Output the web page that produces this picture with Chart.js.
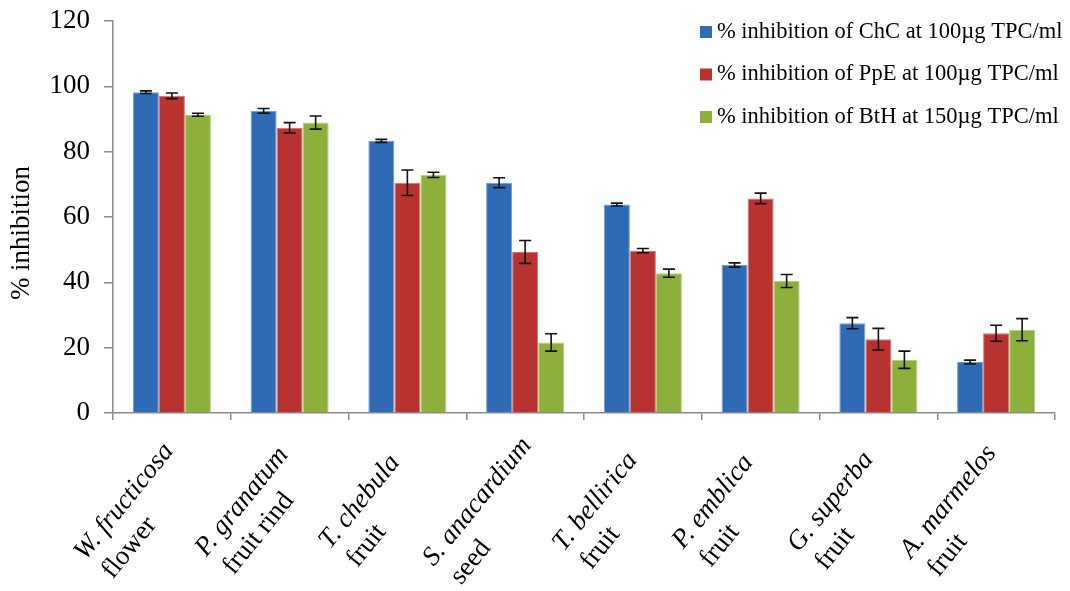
<!DOCTYPE html>
<html>
<head>
<meta charset="utf-8">
<script src="https://cdn.jsdelivr.net/npm/chart.js@4.4.1/dist/chart.umd.min.js"></script>
<style>
  html, body { margin: 0; padding: 0; background: #ffffff; }
  #wrap { position: relative; width: 1070px; height: 591px; }
</style>
</head>
<body>
<div id="wrap"><canvas id="chart"></canvas></div>
<script>
// Plant extracts (species name, plant part)
const species = ["W. fructicosa", "P. granatum", "T. chebula", "S. anacardium",
                 "T. bellirica", "P. emblica", "G. superba", "A. marmelos"];
const parts = ["flower", "fruit rind", "fruit", "seed", "fruit", "fruit", "fruit", "fruit"];

// Series labels
const seriesNames = [
  "% inhibition of ChC at 100\u00b5g TPC/ml",
  "% inhibition of PpE at 100\u00b5g TPC/ml",
  "% inhibition of BtH at 150\u00b5g TPC/ml"
];

// Mean % inhibition and error (±) per extract
const chcValues = [98.2, 92.5, 83.3, 70.5, 63.8, 45.3, 27.5, 15.6];
const chcErrors = [0.4, 0.7, 0.45, 1.5, 0.45, 0.65, 1.7, 0.6];
const ppeValues = [97.1, 87.3, 70.5, 49.3, 49.7, 65.7, 22.6, 24.4];
const ppeErrors = [0.85, 1.6, 3.9, 3.5, 0.65, 1.6, 3.3, 2.45];
const bthValues = [91.3, 88.9, 72.9, 21.6, 42.8, 40.4, 16.3, 25.5];
const bthErrors = [0.45, 2.0, 0.8, 2.65, 1.25, 2.0, 2.65, 3.4];

// Y axis ticks
const yTicks = [0, 20, 40, 60, 80, 100, 120];
const yTitle = "% inhibition";

const FONT = "'Liberation Serif', 'Times New Roman', serif";
const colors = ["#2f6bb4", "#b8322f", "#8db03d"];
const edgeColors = ["#6f9bd6", "#d67270", "#b4cf7d"];
const allErrors = [chcErrors, ppeErrors, bthErrors];

// Error bars drawn from the value and error arrays via the y scale
const errorBars = {
  id: "errorBars",
  afterDatasetsDraw(chart) {
    const ctx = chart.ctx;
    const y = chart.scales.y;
    ctx.save();
    ctx.strokeStyle = "#111111";
    ctx.lineWidth = 1.6;
    chart.data.datasets.forEach((ds, i) => {
      const meta = chart.getDatasetMeta(i);
      meta.data.forEach((bar, j) => {
        const v = ds.data[j], e = allErrors[i][j];
        const top = y.getPixelForValue(v + e);
        const bot = y.getPixelForValue(v - e);
        const x = bar.x, cap = 6;
        ctx.beginPath();
        ctx.moveTo(x, top); ctx.lineTo(x, bot);
        ctx.moveTo(x - cap, top); ctx.lineTo(x + cap, top);
        ctx.moveTo(x - cap, bot); ctx.lineTo(x + cap, bot);
        ctx.stroke();
      });
    });
    ctx.restore();
  }
};

// Rotated two-line category labels: italic species name, upright plant part
const LABEL_ANGLE = 51 * Math.PI / 180;
const categoryLabels = {
  id: "categoryLabels",
  afterDraw(chart) {
    const ctx = chart.ctx;
    const x = chart.scales.x;
    const axisY = chart.chartArea.bottom;
    ctx.save();
    ctx.fillStyle = "#000000";
    ctx.textAlign = "left";
    ctx.textBaseline = "alphabetic";
    species.forEach((name, i) => {
      const cx = x.getPixelForValue(i);
      ctx.save();
      ctx.translate(cx, axisY);
      ctx.rotate(-LABEL_ANGLE);
      ctx.font = "italic 27px " + FONT;
      const w1 = ctx.measureText(name).width;
      const uc = -99, v1 = 26;
      ctx.fillText(name, uc - w1 / 2, v1);
      ctx.font = "27px " + FONT;
      ctx.fillText(parts[i], uc - w1 / 2 + 3, v1 + 33);
      ctx.restore();
    });
    ctx.restore();
  }
};

// Axis title and legend
const decorations = {
  id: "decorations",
  afterDraw(chart) {
    const ctx = chart.ctx;
    const area = chart.chartArea;
    ctx.save();
    ctx.fillStyle = "#000000";
    ctx.font = "27px " + FONT;
    ctx.textAlign = "center";
    ctx.textBaseline = "middle";
    ctx.translate(22, (area.top + area.bottom) / 2 + 16);
    ctx.rotate(-Math.PI / 2);
    ctx.fillText(yTitle, 0, 0);
    ctx.restore();

    ctx.save();
    ctx.font = "22.5px " + FONT;
    ctx.textAlign = "left";
    ctx.textBaseline = "middle";
    chart.data.datasets.forEach((ds, i) => {
      const cy = 32 + i * 42.5;
      ctx.fillStyle = ds.backgroundColor;
      ctx.fillRect(700, cy - 6, 12, 12);
      ctx.fillStyle = "#000000";
      ctx.fillText(ds.label, 717, cy);
    });
    ctx.restore();
  }
};

const datasets = [chcValues, ppeValues, bthValues].map((vals, i) => ({
  label: seriesNames[i],
  data: vals,
  backgroundColor: colors[i],
  borderColor: edgeColors[i],
  borderWidth: 1,
  categoryPercentage: 0.663,
  barPercentage: 1.0
}));

new Chart(document.getElementById("chart"), {
  type: "bar",
  data: { labels: species, datasets },
  options: {
    responsive: true,
    maintainAspectRatio: false,
    animation: false,
    layout: { padding: { top: 21, right: 15, left: 0, bottom: 0 } },
    plugins: { legend: { display: false }, tooltip: { enabled: false } },
    scales: {
      x: {
        ticks: { display: false },
        grid: { offset: true, drawOnChartArea: false, drawTicks: true, tickLength: 7, color: "#8a8a8a", lineWidth: 1.5 },
        border: { color: "#8a8a8a", width: 1.5 },
        afterFit(scale) { scale.height = 178; }
      },
      y: {
        min: 0,
        max: 120,
        afterBuildTicks(scale) { scale.ticks = yTicks.map(v => ({ value: v })); },
        ticks: { color: "#000000", font: { family: FONT, size: 27, lineHeight: 0.5 }, padding: 14 },
        grid: { drawOnChartArea: false, drawTicks: true, tickLength: 9, color: "#8a8a8a", lineWidth: 1.5 },
        border: { color: "#8a8a8a", width: 1.5 },
        afterFit(scale) { scale.width = 113; }
      }
    }
  },
  plugins: [errorBars, categoryLabels, decorations]
});
</script>
</body>
</html>
